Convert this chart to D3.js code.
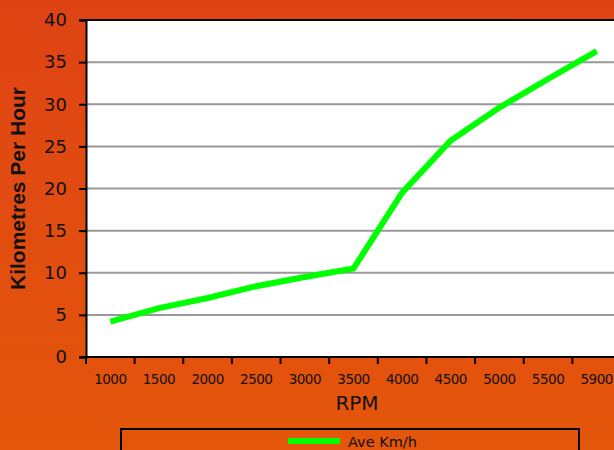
<!DOCTYPE html>
<html>
<head>
<meta charset="utf-8">
<script src="https://cdn.jsdelivr.net/npm/d3@7"></script>
<style>
  body { margin: 0; overflow: hidden; }
  svg { display: block; }
</style>
</head>
<body>
<div id="graph"></div>
<script>
'use strict';

const rpm = ['1000', '1500', '2000', '2500', '3000', '3500', '4000', '4500', '5000', '5500', '5900'];
const kmh = [4.2, 5.8, 7.0, 8.4, 9.5, 10.5, 19.5, 25.7, 29.6, 33.0, 36.3];
const yTicks = [0, 5, 10, 15, 20, 25, 30, 35, 40];
const seriesName = 'Ave Km/h';

const width = 614;
const height = 450;
const margin = {top: 20, right: -7, bottom: 93, left: 86};

const svg = d3.select('#graph')
    .append('svg')
    .attr('width', width)
    .attr('height', height);

// orange background, a little redder at the top
const grad = svg.append('defs').append('linearGradient')
    .attr('id', 'bg')
    .attr('x1', 0).attr('y1', 0).attr('x2', 0).attr('y2', 1);
grad.append('stop').attr('offset', '0%').attr('stop-color', '#df4314');
grad.append('stop').attr('offset', '100%').attr('stop-color', '#e4560b');

svg.append('rect')
    .attr('width', width)
    .attr('height', height)
    .attr('fill', 'url(#bg)');

const x = d3.scaleBand()
    .domain(rpm)
    .range([margin.left, width - margin.right]);
const y = d3.scaleLinear()
    .domain([0, 40])
    .range([height - margin.bottom, margin.top]);

// plot area
svg.append('rect')
    .attr('x', margin.left)
    .attr('y', margin.top)
    .attr('width', width - margin.left)
    .attr('height', y(0) - margin.top)
    .attr('fill', 'white');

// grid lines
svg.append('g')
    .selectAll('line')
    .data(yTicks.filter(d => d > 0 && d < 40))
    .join('line')
    .attr('x1', margin.left)
    .attr('x2', width)
    .attr('y1', d => y(d))
    .attr('y2', d => y(d))
    .attr('stroke', '#999')
    .attr('stroke-width', 2);

// top border
svg.append('line')
    .attr('x1', margin.left - 7)
    .attr('x2', width)
    .attr('y1', y(40))
    .attr('y2', y(40))
    .attr('stroke', 'black')
    .attr('stroke-width', 2);

const font = '"DejaVu Sans", Verdana, sans-serif';

// y axis
const yAxis = svg.append('g')
    .attr('transform', `translate(${margin.left},0)`)
    .call(d3.axisLeft(y).tickValues(yTicks).tickSize(7).tickPadding(12));
yAxis.select('.domain').attr('stroke-width', 2);
yAxis.selectAll('.tick line').attr('stroke-width', 2);
yAxis.selectAll('text')
    .style('font', '18px ' + font)
    .attr('fill', '#111');

// x axis, ticks on the band edges
const xAxis = svg.append('g')
    .attr('transform', `translate(0,${y(0)})`);
xAxis.append('line')
    .attr('x1', margin.left - 7)
    .attr('x2', width)
    .attr('stroke', 'black')
    .attr('stroke-width', 2);
xAxis.selectAll('line.tick')
    .data(rpm)
    .join('line')
    .attr('class', 'tick')
    .attr('x1', d => x(d))
    .attr('x2', d => x(d))
    .attr('y1', 0)
    .attr('y2', 7)
    .attr('stroke', 'black')
    .attr('stroke-width', 2);
xAxis.selectAll('text')
    .data(rpm)
    .join('text')
    .attr('x', d => x(d) + x.bandwidth() / 2)
    .attr('y', 27)
    .attr('text-anchor', 'middle')
    .style('font', '13.5px ' + font)
    .style('letter-spacing', '-0.5px')
    .attr('fill', '#111')
    .text(d => d);

// axis titles
svg.append('text')
    .attr('x', 357)
    .attr('y', 410)
    .attr('text-anchor', 'middle')
    .style('font', '20px ' + font)
    .attr('fill', '#111')
    .text('RPM');

svg.append('text')
    .attr('transform', `translate(25,${(y(0) + y(40)) / 2}) rotate(-90)`)
    .attr('text-anchor', 'middle')
    .style('font', 'bold 21px "Liberation Sans", Arial, sans-serif')
    .attr('fill', '#111')
    .text('Kilometres Per Hour');

// series line
const line = d3.line()
    .x((d, i) => x(rpm[i]) + x.bandwidth() / 2)
    .y(d => y(d));

svg.append('path')
    .datum(kmh)
    .attr('fill', 'none')
    .attr('stroke', '#00ff00')
    .attr('stroke-width', 6)
    .attr('d', line);

// legend
svg.append('rect')
    .attr('x', 121)
    .attr('y', 429)
    .attr('width', 458)
    .attr('height', 40)
    .attr('fill', 'none')
    .attr('stroke', 'black')
    .attr('stroke-width', 2);
svg.append('line')
    .attr('x1', 288)
    .attr('x2', 340)
    .attr('y1', 441)
    .attr('y2', 441)
    .attr('stroke', '#00ff00')
    .attr('stroke-width', 6);
svg.append('text')
    .attr('x', 348)
    .attr('y', 447)
    .style('font', '14.5px ' + font)
    .attr('fill', '#111')
    .text(seriesName);
</script>
</body>
</html>
